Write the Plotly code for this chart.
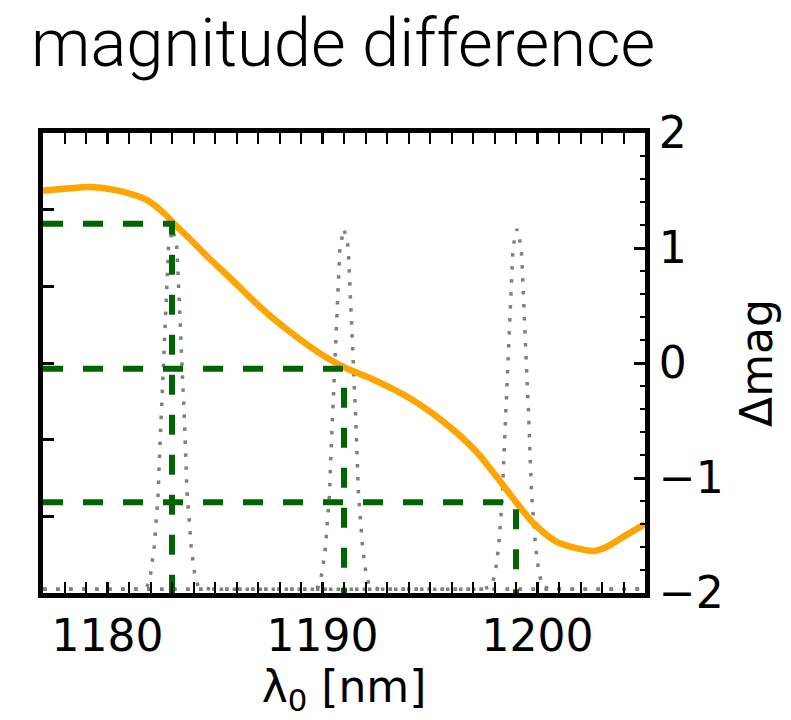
import plotly.graph_objects as go

# Δmag curve (orange)
lam = [1177.0, 1178.0, 1179.2, 1180.0, 1180.7, 1181.8, 1182.7, 1183.1, 1183.8, 1184.7,
       1185.7, 1186.6, 1187.5, 1188.5, 1189.4, 1190.3, 1191.1, 1192.2, 1193.1, 1194.0,
       1195.1, 1196.2, 1197.2, 1198.1, 1199.0, 1199.8, 1200.9, 1201.8, 1202.6, 1203.2,
       1204.0, 1205.0]
dmag = [1.50, 1.515, 1.53, 1.515, 1.49, 1.42, 1.29, 1.21, 1.085, 0.915,
        0.74, 0.575, 0.42, 0.27, 0.145, 0.035, -0.045, -0.13, -0.21, -0.30,
        -0.435, -0.60, -0.78, -0.99, -1.21, -1.39, -1.556, -1.61, -1.635, -1.60,
        -1.51, -1.40]

# filter transmission profiles (gray dotted)
filter_T = [0.01, 0.01, 0.016, 0.052, 0.120, 0.190, 0.261, 0.334, 0.404, 0.477, 0.548, 0.613,
            0.686, 0.757, 0.861, 0.903, 0.95, 0.903, 0.861, 0.757, 0.686, 0.613, 0.548,
            0.477, 0.404, 0.334, 0.261, 0.190, 0.120, 0.052, 0.016, 0.01, 0.01]
filter1_lam = [1177.0, 1181.3, 1181.84, 1182.01, 1182.17, 1182.26, 1182.36, 1182.40, 1182.45,
               1182.50, 1182.56, 1182.61, 1182.66, 1182.73, 1182.80, 1182.84, 1183.03,
               1183.22, 1183.26, 1183.33, 1183.40, 1183.45, 1183.50, 1183.56, 1183.61,
               1183.66, 1183.70, 1183.80, 1183.89, 1184.05, 1184.22, 1184.8, 1205.0]
filter2_lam = [1177.0, 1189.3, 1189.81, 1189.98, 1190.14, 1190.23, 1190.33, 1190.37, 1190.42,
               1190.47, 1190.53, 1190.58, 1190.63, 1190.70, 1190.77, 1190.81, 1191.00,
               1191.19, 1191.23, 1191.30, 1191.37, 1191.42, 1191.47, 1191.53, 1191.58,
               1191.63, 1191.67, 1191.77, 1191.86, 1192.02, 1192.19, 1192.7, 1205.0]
filter3_lam = [1177.0, 1197.3, 1197.86, 1198.03, 1198.19, 1198.28, 1198.38, 1198.42, 1198.47,
               1198.52, 1198.58, 1198.63, 1198.68, 1198.75, 1198.82, 1198.86, 1199.05,
               1199.24, 1199.28, 1199.35, 1199.42, 1199.47, 1199.52, 1199.58, 1199.63,
               1199.68, 1199.72, 1199.82, 1199.91, 1200.07, 1200.24, 1200.8, 1205.0]

# guide lines (green dashed)
guide_lam = [1183.0, 1191.0, 1199.0]
guide_dmag = [1.21, -0.05, -1.21]

x_range = [1177, 1205]
dmag_range = [-2, 2]
T_range = [0, 1.2]

fig = go.Figure()
for fl in [filter1_lam, filter2_lam, filter3_lam]:
    fig.add_trace(go.Scatter(x=fl, y=filter_T, mode="lines", yaxis="y",
                             line=dict(color="#808080", width=3.5, dash="3.5px,9.5px"),
                             showlegend=False, hoverinfo="skip"))

fig.add_trace(go.Scatter(x=lam, y=dmag, mode="lines", yaxis="y2",
                         line=dict(color="#FFA500", width=6.5, shape="spline", smoothing=0.8),
                         showlegend=False))
for gl, gm in zip(guide_lam, guide_dmag):
    fig.add_trace(go.Scatter(x=[x_range[0], gl, gl], y=[gm, gm, dmag_range[0]],
                             mode="lines", yaxis="y2",
                             line=dict(color="#006400", width=6, dash="20px,20px"),
                             showlegend=False))

tickfont = dict(family="DejaVu Sans", size=44, color="black")
fig.update_layout(
    width=791, height=720,
    margin=dict(l=43, r=146, t=133, b=127),
    paper_bgcolor="white", plot_bgcolor="white",
    title=dict(text="magnitude difference", x=31/791, xanchor="left", xref="container",
               y=1-19/720, yanchor="top", yref="container",
               font=dict(family="Roboto", size=67, color="black", weight=300)),
    xaxis=dict(range=x_range, tick0=1180, dtick=10, ticks="inside", ticklen=11, tickwidth=2.5,
               tickcolor="black", showline=True, linewidth=5, linecolor="black",
               mirror="allticks", showgrid=False, zeroline=False, tickfont=tickfont,
               minor=dict(dtick=1, tick0=1180, ticks="inside", ticklen=5, tickwidth=2, tickcolor="black"),
               title=dict(text="λ<sub>0</sub> [nm]", font=tickfont, standoff=10)),
    yaxis=dict(range=T_range, dtick=0.2, ticks="inside", ticklen=11, tickwidth=2.5,
               tickcolor="black", showticklabels=False, showline=True, linewidth=5,
               linecolor="black", mirror=True, showgrid=False, zeroline=False),
    yaxis2=dict(range=dmag_range, dtick=1, overlaying="y", side="right", ticks="inside",
                ticklen=11, tickwidth=2.5, tickcolor="black", showline=True, linewidth=5,
                linecolor="black", showgrid=False, zeroline=False, tickfont=tickfont,
                minor=dict(dtick=0.2, ticks="inside", ticklen=5, tickwidth=2, tickcolor="black"),
                title=dict(text="Δmag", font=tickfont, standoff=20)),
)
fig.write_html("out.html")
